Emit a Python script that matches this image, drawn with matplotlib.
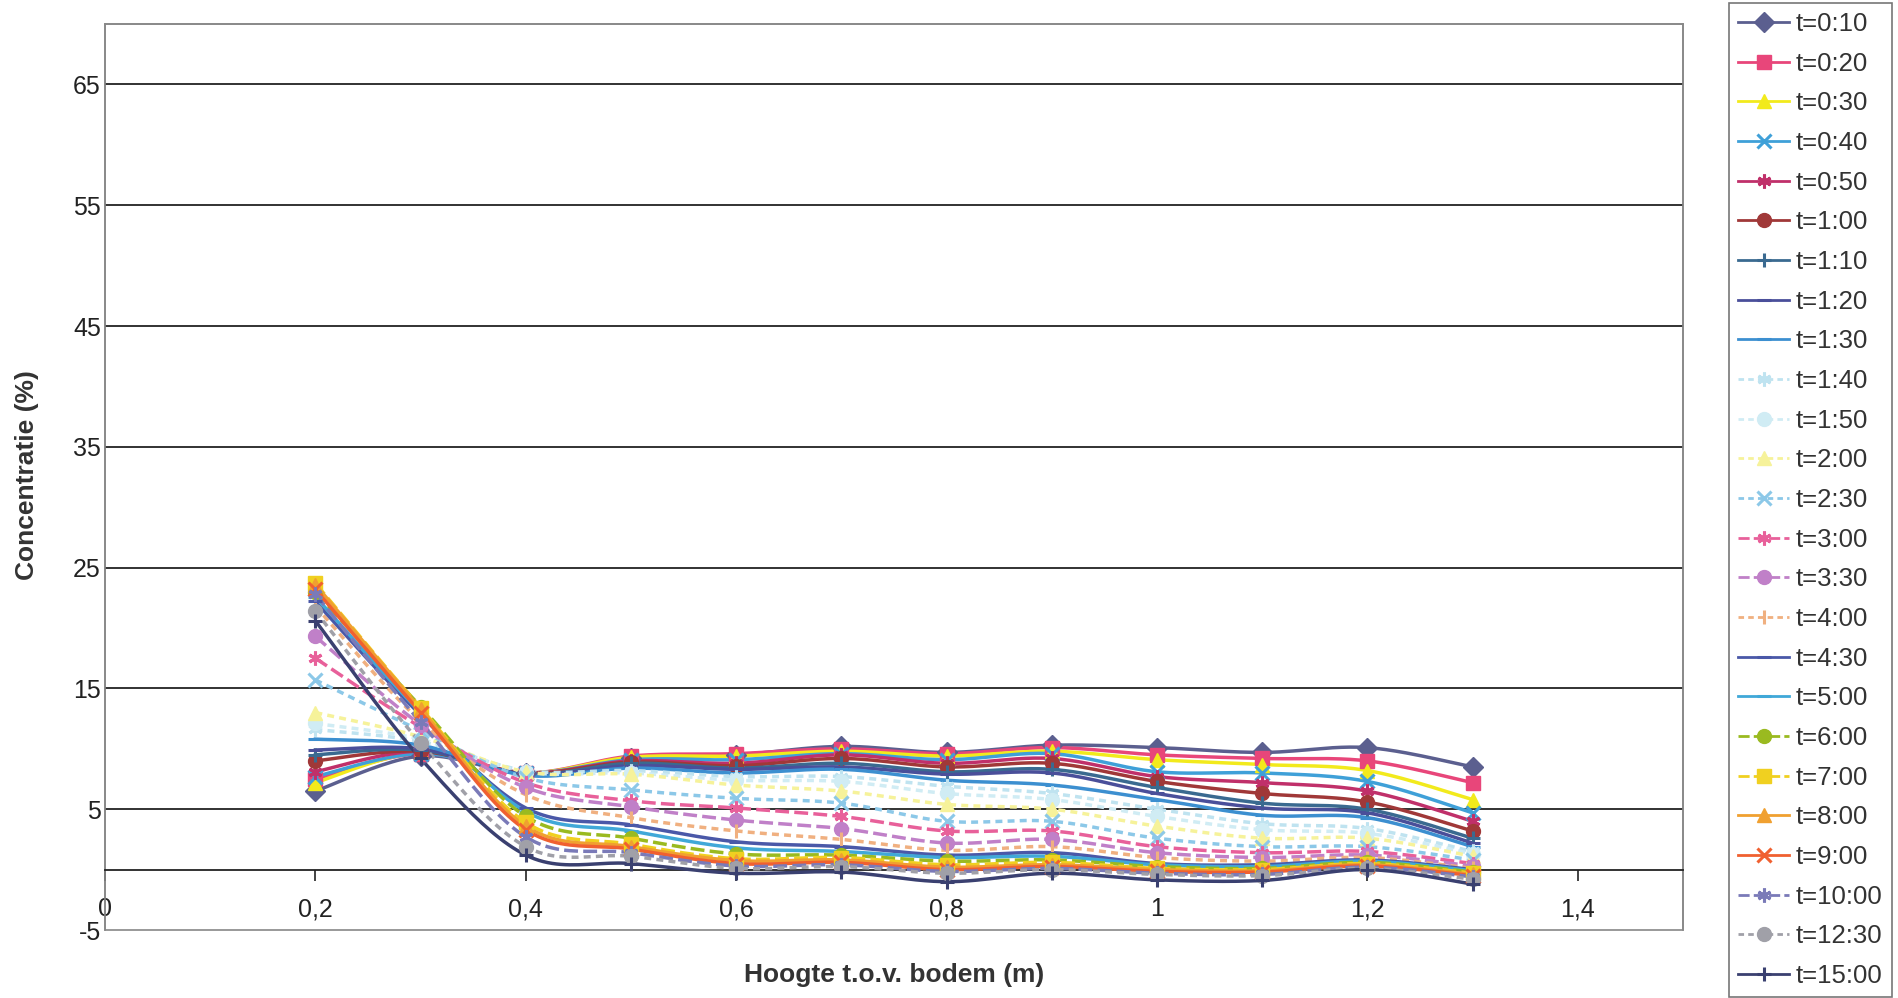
import matplotlib
matplotlib.use('Agg')
import matplotlib.pyplot as plt
import numpy as np
from matplotlib.patches import Rectangle
from matplotlib.ticker import FuncFormatter

plt.rcParams['font.family'] = ['Liberation Sans', 'DejaVu Sans']

# ---------------------------------------------------------------------------
# data
hoogte = [0.2, 0.3, 0.4, 0.5, 0.6, 0.7, 0.8, 0.9, 1.0, 1.1, 1.2, 1.3]

tijden = ['t=0:10', 't=0:20', 't=0:30', 't=0:40', 't=0:50', 't=1:00',
          't=1:10', 't=1:20', 't=1:30', 't=1:40', 't=1:50', 't=2:00',
          't=2:30', 't=3:00', 't=3:30', 't=4:00', 't=4:30', 't=5:00',
          't=6:00', 't=7:00', 't=8:00', 't=9:00', 't=10:00', 't=12:30',
          't=15:00']

concentratie = [
    [6.5, 9.4, 8.0, 9.2, 9.5, 10.2, 9.7, 10.3, 10.1, 9.7, 10.1, 8.5],   # 0:10
    [7.5, 9.6, 8.0, 9.4, 9.6, 10.0, 9.6, 10.1, 9.5, 9.2, 9.0, 7.2],     # 0:20
    [7.2, 9.7, 8.0, 9.3, 9.4, 9.8, 9.4, 9.8, 9.1, 8.7, 8.2, 5.8],       # 0:30
    [7.7, 9.6, 8.0, 9.1, 9.1, 9.6, 9.1, 9.6, 8.1, 8.0, 7.3, 4.7],       # 0:40
    [8.1, 9.8, 8.0, 9.0, 8.8, 9.5, 8.8, 9.2, 7.7, 7.2, 6.5, 4.0],       # 0:50
    [9.0, 9.8, 8.0, 8.9, 8.6, 9.2, 8.5, 8.8, 7.3, 6.3, 5.6, 3.2],       # 1:00
    [9.5, 9.9, 7.9, 8.8, 8.4, 8.8, 8.1, 8.3, 6.8, 5.5, 5.0, 2.6],       # 1:10
    [9.9, 10.0, 7.9, 8.6, 8.3, 8.5, 7.9, 8.0, 6.3, 5.1, 4.7, 2.2],      # 1:20
    [10.8, 10.3, 7.8, 8.4, 8.0, 8.3, 7.4, 7.0, 5.8, 4.5, 4.3, 1.9],     # 1:30
    [11.6, 10.6, 8.2, 8.2, 7.7, 7.7, 6.9, 6.3, 5.0, 3.8, 3.4, 1.5],     # 1:40
    [12.1, 10.8, 8.1, 8.0, 7.4, 7.3, 6.3, 5.8, 4.4, 3.3, 3.0, 1.3],     # 1:50
    [13.0, 11.0, 8.1, 7.9, 7.0, 6.5, 5.4, 5.0, 3.6, 2.6, 2.6, 1.1],     # 2:00
    [15.7, 11.5, 7.6, 6.6, 5.9, 5.5, 4.0, 4.0, 2.6, 1.9, 1.9, 0.8],     # 2:30
    [17.5, 11.8, 7.2, 5.7, 5.1, 4.4, 3.2, 3.2, 1.9, 1.4, 1.5, 0.5],     # 3:00
    [19.3, 12.0, 6.8, 5.2, 4.1, 3.4, 2.2, 2.5, 1.4, 1.0, 1.2, 0.3],     # 3:30
    [21.8, 12.3, 6.2, 4.3, 3.2, 2.5, 1.6, 1.9, 1.0, 0.7, 1.0, 0.1],     # 4:00
    [22.2, 12.8, 5.1, 3.7, 2.3, 1.9, 1.2, 1.4, 0.5, 0.4, 0.8, 0.0],     # 4:30
    [22.6, 13.0, 4.8, 3.2, 1.8, 1.5, 1.0, 1.1, 0.4, 0.25, 0.7, -0.1],   # 5:00
    [23.0, 13.5, 4.4, 2.6, 1.3, 1.2, 0.7, 0.8, 0.25, 0.1, 0.6, -0.2],   # 6:00
    [23.7, 13.4, 3.9, 2.1, 0.9, 1.0, 0.4, 0.6, 0.1, 0.0, 0.5, -0.3],    # 7:00
    [23.6, 13.3, 3.6, 1.9, 0.75, 0.8, 0.2, 0.4, 0.0, -0.1, 0.4, -0.4],  # 8:00
    [23.2, 13.0, 3.3, 1.7, 0.5, 0.6, 0.0, 0.25, -0.15, -0.2, 0.3, -0.5],  # 9:00
    [22.8, 12.2, 2.7, 1.4, 0.3, 0.4, -0.15, 0.1, -0.3, -0.4, 0.2, -0.6],  # 10:00
    [21.4, 10.5, 1.9, 1.1, 0.1, 0.25, -0.3, 0.0, -0.4, -0.5, 0.1, -0.8],  # 12:30
    [20.6, 9.2, 1.2, 0.5, -0.3, -0.2, -1.0, -0.3, -0.85, -0.9, 0.0, -1.2],  # 15:00
]

kleuren = ['#5b5f8f', '#e8467a', '#f2ea1c', '#3fa0d8', '#c0306a', '#a03838',
           '#3a6a90', '#4a4f9a', '#3c8fd0', '#bfe3f0', '#d0ecf4', '#f6f29a',
           '#8cc8e8', '#e8609a', '#c080c8', '#f0b080', '#4a58a8', '#40a8d8',
           '#9aba20', '#f0d020', '#f0a030', '#f06030', '#7a7ab8', '#a0a0a8',
           '#3a4070']

ster = (6, 2, 0)
markers = ['D', 's', '^', 'x', ster, 'o', '+', '_', '_', ster, 'o', '^',
           'x', ster, 'o', '|', '_', '_', 'o', 's', '^', 'x', ster, 'o', '+']

stippel = (0, (2, 1.5))
streep = (0, (4, 1.5))
lijnen = ['-', '-', '-', '-', '-', '-', '-', '-', '-', stippel, stippel, stippel,
          stippel, streep, streep, stippel, '-', '-', streep,
          streep, '-', '-', streep, stippel, '-']


def smooth(xs, ys, n=24):
    # catmull-rom, close to excel's "smoothed line"
    p = np.column_stack([xs, ys]).astype(float)
    p = np.vstack([p[0], p, p[-1]])
    out = []
    t = np.linspace(0, 1, n, endpoint=False)[:, None]
    for i in range(1, len(p) - 2):
        p0, p1, p2, p3 = p[i - 1], p[i], p[i + 1], p[i + 2]
        c = 0.5 * (2 * p1 + (-p0 + p2) * t + (2 * p0 - 5 * p1 + 4 * p2 - p3) * t ** 2
                   + (-p0 + 3 * p1 - 3 * p2 + p3) * t ** 3)
        out.append(c)
    out.append(p[-2][None])
    c = np.vstack(out)
    return c[:, 0], c[:, 1]


#----------------------------------------------------------------------------------------------
fig = plt.figure(figsize=(18.98, 9.98), dpi=100)
ax = fig.add_axes([105 / 1898., 1 - 930 / 998., (1683 - 105) / 1898., (930 - 24) / 998.])

handles = []
for i, lab in enumerate(tijden):
    sx, sy = smooth(hoogte, concentratie[i])
    ax.plot(sx, sy, color=kleuren[i], lw=2.5, ls=lijnen[i], zorder=3 + i * 0.01)
    mew = 2.2 if markers[i] in ('x', '+', '_', '|', ster) else 1
    ax.plot(hoogte, concentratie[i], ls='none', marker=markers[i], ms=10,
            mfc=kleuren[i], mec=kleuren[i], mew=mew, zorder=3.5 + i * 0.01)
    h, = ax.plot([], [], color=kleuren[i], lw=2, ls=lijnen[i], marker=markers[i], ms=10,
                 mfc=kleuren[i], mec=kleuren[i], mew=mew)
    handles.append(h)

ax.set_xlim(0, 1.5)
ax.set_ylim(-5, 70)
ax.set_yticks(np.arange(-5, 70, 10))
ax.set_xticks(np.arange(0, 1.41, 0.2))
komma = FuncFormatter(lambda v, p: ('%g' % round(v, 2)).replace('.', ','))
ax.xaxis.set_major_formatter(komma)
ax.yaxis.set_major_formatter(komma)

for g in np.arange(5, 70, 10):
    ax.axhline(g, color='#222222', lw=1.3, zorder=1)

ax.spines['bottom'].set_position(('data', 0))
ax.spines['bottom'].set_color('#222222')
ax.spines['bottom'].set_linewidth(1.3)
for s in ('top', 'left', 'right'):
    ax.spines[s].set_color('#888888')
    ax.spines[s].set_linewidth(1.2)
ax.add_patch(Rectangle((0, 0), 1, 1, transform=ax.transAxes, fill=False,
                       ec='#888888', lw=1.2, zorder=0.5, clip_on=False))

ax.tick_params(axis='x', direction='out', length=8, width=1.2, pad=12, labelsize=18,
               colors='#222222')
ax.tick_params(axis='y', direction='out', length=0, width=1.0, pad=3, labelsize=18,
               colors='#222222')

fig.text(27 / 1898., 1 - 475 / 998., 'Concentratie (%)', rotation=90, ha='center',
         va='center', fontsize=19, fontweight='bold', color='#333333')
fig.text(894 / 1898., 1 - 975 / 998., 'Hoogte t.o.v. bodem (m)', ha='center',
         va='center', fontsize=19, fontweight='bold', color='#333333')

leg = fig.legend(handles, tijden, loc='upper left', bbox_to_anchor=(1729 / 1898., 1 - 3 / 998.),
                 fontsize=18.5, frameon=True, fancybox=False, handlelength=2.0,
                 handletextpad=0.25, labelspacing=0.61, borderpad=0.35, borderaxespad=0)
leg.get_frame().set_edgecolor('#555555')
leg.get_frame().set_linewidth(1.2)
for t in leg.get_texts():
    t.set_color('#333333')

fig.savefig('out.png', dpi=100, facecolor='white')
